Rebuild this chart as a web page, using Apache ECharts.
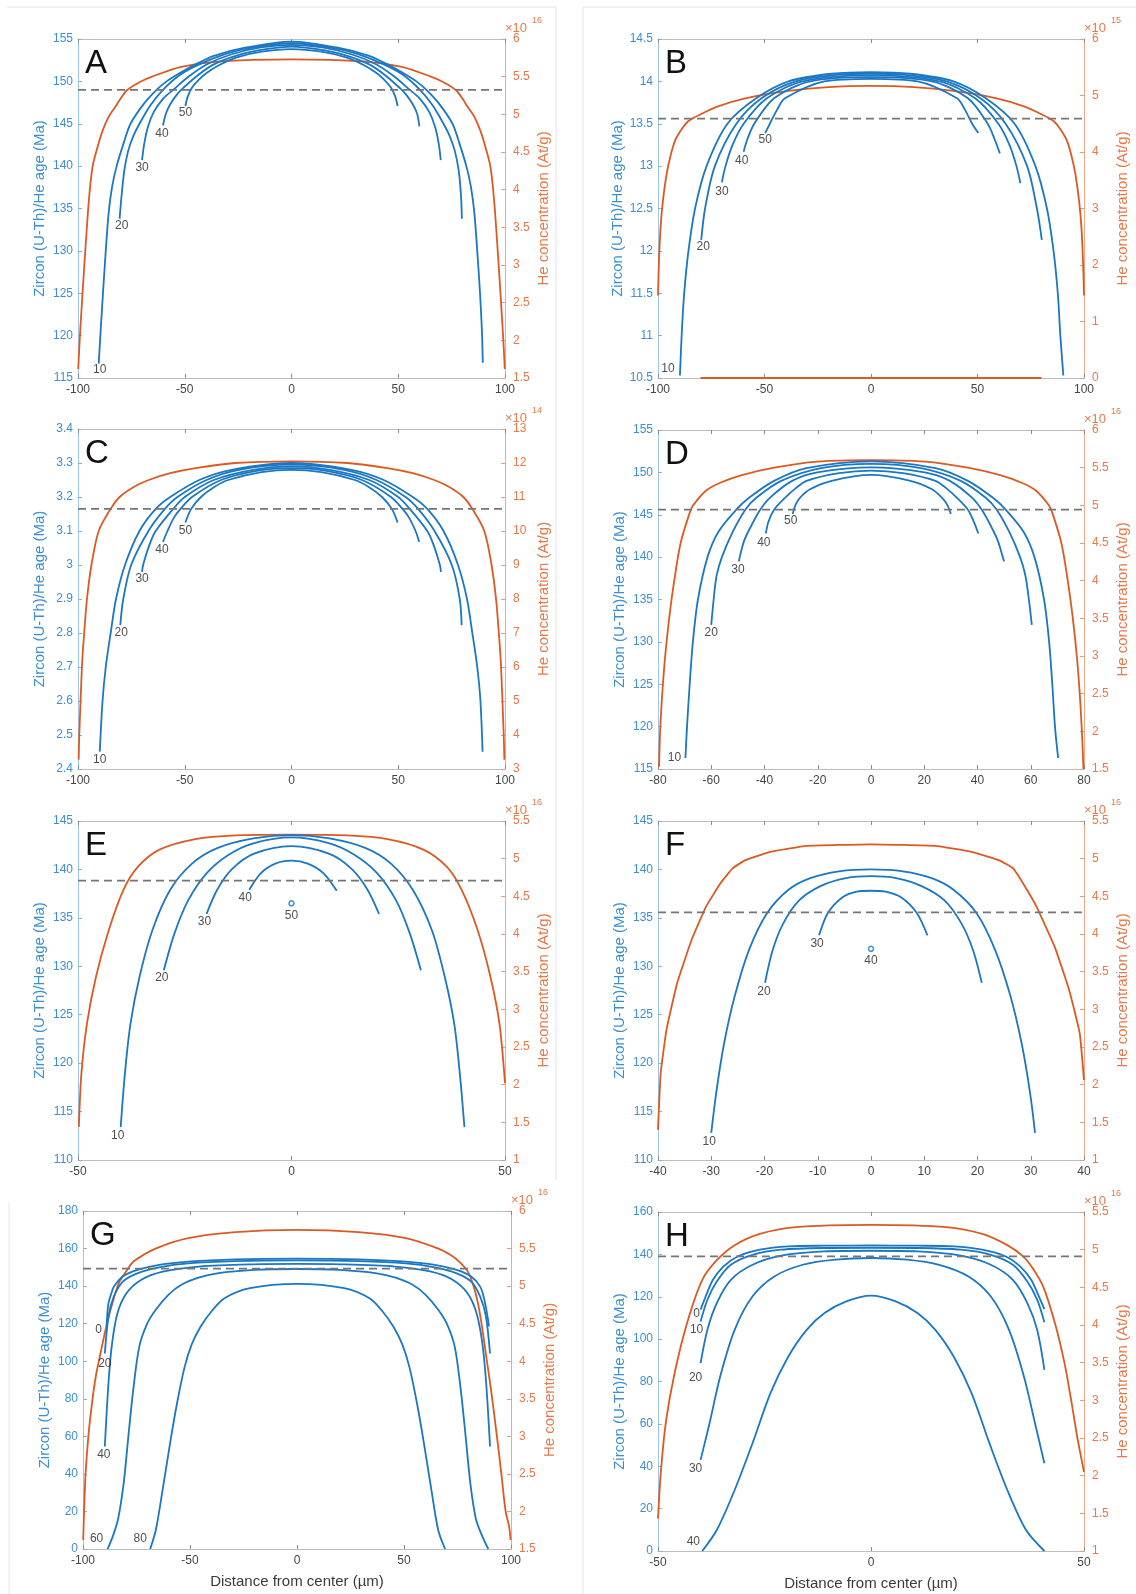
<!DOCTYPE html>
<html>
<head>
<meta charset="utf-8">
<title>Zircon (U-Th)/He age and He concentration profiles</title>
<script src="https://cdn.jsdelivr.net/npm/echarts@6/dist/echarts.min.js"></script>
<style>
  html, body { margin: 0; padding: 0; background: #fff; }
  #chart { width: 1136px; height: 1594px; }
</style>
</head>
<body>
<div id="chart"></div>
<script>
// ---------- axis ranges (panels A..H) ----------
const panelLetters = ['A', 'B', 'C', 'D', 'E', 'F', 'G', 'H'];
const xMin = [-100, -100, -100, -80, -50, -40, -100, -50];
const xMax = [100, 100, 100, 80, 50, 40, 100, 50];
const xStep = [50, 50, 50, 20, 50, 10, 50, 50];
const ageMin = [115, 10.5, 2.4, 115, 110, 110, 0, 0];
const ageMax = [155, 14.5, 3.4, 155, 145, 145, 180, 160];
const ageStep = [5, 0.5, 0.1, 5, 5, 5, 20, 20];
const heMin = [1.5, 0, 3, 1.5, 1, 1, 1.5, 1];
const heMax = [6, 6, 13, 6, 5.5, 5.5, 6, 5.5];
const heStep = [0.5, 1, 1, 0.5, 0.5, 0.5, 0.5, 0.5];
const heExponent = ['16', '15', '14', '16', '16', '16', '16', '16'];
const bulkAge = [149, 13.56, 3.165, 145.6, 138.84, 135.57, 149.3, 139.1];
const showDistanceTitle = [false, false, false, false, false, false, true, true];

// ---------- curve labels ----------
const namesA = ['10', '20', '30', '40', '50'];
const namesB = ['10', '20', '30', '40', '50'];
const namesC = ['10', '20', '30', '40', '50'];
const namesD = ['10', '20', '30', '40', '50'];
const namesE = ['10', '20', '30', '40'];
const namesF = ['10', '20', '30'];
const namesG = ['0', '20', '40', '60', '80'];
const namesH = ['0', '10', '20', '30', '40'];

// ---------- age profiles [distance (µm), age (Ma)] ----------
const ageA = [
  [[-90.3,116.7],[-89.4,120.5],[-88.3,125],[-87,130],[-85.6,134.6],[-84,137.6],[-81.9,140],[-78.5,142.8],[-75.4,145],[-69,147.4],[-63.2,149],[-58.5,150],[-51.5,151.1],[-44.9,152],[-36.4,153],[-21.2,154],[0,154.7],[21.2,154],[36.4,153],[44.9,152],[51.5,151.1],[58.5,150],[63.2,149],[69,147.4],[75.4,145],[78.5,142.8],[81.9,140],[84,137.6],[85.6,134.6],[87,130],[88.3,125],[89.2,120.5],[89.6,116.8]],
  [[-80.5,133.8],[-79.6,136.5],[-78.3,139.5],[-76.5,141.8],[-74,143.6],[-71.2,145],[-66,147.2],[-60.2,149],[-52,150.8],[-43.2,152],[-30,153.3],[-17.8,154],[0,154.5],[17.8,154],[30,153.3],[43.2,152],[52,150.8],[60.2,149],[66,147.2],[71.2,145],[74,143.6],[76.5,141.8],[78.3,139.5],[79.4,136.5],[79.8,133.8]],
  [[-70,140.7],[-69,142.6],[-67.3,144.6],[-64.5,146.4],[-60,148],[-55.4,149],[-48,150.6],[-39.8,152],[-28,153.2],[-14.4,154],[0,154.3],[14.4,154],[28,153.2],[39.8,152],[48,150.6],[55.4,149],[60,148],[64.5,146.4],[67.3,144.6],[69,142.6],[69.9,140.7]],
  [[-60.2,144.8],[-58.8,146.2],[-56.8,147.3],[-53.5,148.5],[-50.8,149.2],[-44,150.7],[-36.4,152],[-25,153.1],[-12,153.8],[0,154.1],[12,153.8],[25,153.1],[36.4,152],[44,150.7],[50.8,149.2],[53.5,148.5],[56.8,147.3],[58.8,146.2],[59.9,144.7]],
  [[-49.7,147.1],[-48.6,148.2],[-46.5,149.3],[-43,150.3],[-39.8,151],[-34,151.9],[-26,152.8],[-14,153.5],[0,153.8],[14,153.5],[26,152.8],[34,151.9],[39.8,151],[43,150.3],[46.5,149.3],[48.6,148.2],[49.7,147.1]]
];
const ageB = [
  [[-89.7,10.53],[-88.9,11],[-87.7,11.5],[-85.7,12],[-82.6,12.5],[-77.2,13],[-67.4,13.5],[-53.9,13.8],[-38.7,14],[-18.5,14.09],[0,14.11],[18.5,14.09],[38.7,14],[53.9,13.8],[67.4,13.5],[77.2,13],[82.6,12.5],[85.7,12],[87.7,11.5],[88.9,11],[90.3,10.53]],
  [[-79.7,12.13],[-77.9,12.5],[-73.3,13],[-63.2,13.5],[-51.4,13.8],[-35.4,14],[-15,14.08],[0,14.09],[15,14.08],[35.4,14],[51.4,13.8],[63.2,13.5],[73.3,13],[77.9,12.5],[80.2,12.13]],
  [[-70,12.81],[-68.3,13],[-65,13.25],[-59.8,13.5],[-48.9,13.8],[-32,14],[0,14.07],[32,14],[48.9,13.8],[59.8,13.5],[65,13.25],[68.3,13],[70.1,12.8]],
  [[-59.8,13.17],[-58,13.32],[-54.8,13.5],[-45.5,13.8],[-28.6,14],[0,14.05],[28.6,14],[45.5,13.8],[54.8,13.5],[58,13.32],[60.5,13.15]],
  [[-49.7,13.39],[-47.5,13.5],[-44,13.67],[-40.4,13.8],[-21.9,14],[0,14.03],[21.9,14],[40.4,13.8],[44,13.67],[47.5,13.5],[50.4,13.39]]
];
const ageC = [
  [[-89.8,2.451],[-88.5,2.6],[-87,2.7],[-84.7,2.8],[-82.2,2.9],[-78,3],[-71.2,3.1],[-63.6,3.165],[-56.8,3.2],[-43.2,3.25],[-28,3.28],[0,3.3],[28,3.28],[43.2,3.25],[56.8,3.2],[63.6,3.165],[71.2,3.1],[78,3],[82.2,2.9],[84.7,2.8],[87,2.7],[88.5,2.6],[89.5,2.451]],
  [[-80.2,2.823],[-78.8,2.9],[-75.1,3],[-67,3.1],[-59.3,3.165],[-53.4,3.2],[-39.8,3.25],[-24.6,3.28],[0,3.295],[24.6,3.28],[39.8,3.25],[53.4,3.2],[59.3,3.165],[67,3.1],[75.1,3],[78.8,2.9],[79.7,2.823]],
  [[-70,2.98],[-69.5,3],[-66.5,3.06],[-63.6,3.1],[-55.4,3.165],[-50,3.2],[-36.4,3.25],[-18,3.28],[0,3.29],[18,3.28],[36.4,3.25],[50,3.2],[55.4,3.165],[63.6,3.1],[66.5,3.06],[69.5,3],[70,2.98]],
  [[-60.2,3.068],[-58.1,3.1],[-55,3.14],[-52,3.165],[-46.6,3.2],[-33,3.25],[-15,3.278],[0,3.285],[15,3.278],[33,3.25],[46.6,3.2],[52,3.165],[55,3.14],[58.1,3.1],[59.8,3.068]],
  [[-49.7,3.125],[-47,3.165],[-42.4,3.2],[-36,3.23],[-29.7,3.25],[-14,3.273],[0,3.28],[14,3.273],[29.7,3.25],[36,3.23],[42.4,3.2],[47,3.165],[49.7,3.125]]
];
const ageD = [
  [[-69.7,116.3],[-69.1,120],[-68.1,125],[-66.9,130],[-65,135],[-61.4,140],[-57.3,143],[-50.6,145.6],[-45.8,147],[-36.4,149],[-24.2,150.5],[0,151.3],[24.2,150.5],[36.4,149],[45.8,147],[50.6,145.6],[57.3,143],[61.4,140],[65,135],[66.9,130],[68.1,125],[69.1,120],[70.3,116.3]],
  [[-60,132],[-59.1,135],[-58,137.8],[-56,140],[-51.9,143],[-47.2,145.6],[-43.1,147],[-33.7,149],[-18.8,150.5],[0,151],[18.8,150.5],[33.7,149],[43.1,147],[47.2,145.6],[51.9,143],[56,140],[58,137.8],[59.3,135],[60.4,132]],
  [[-49.6,139.5],[-49.3,140],[-47.8,141.8],[-45.8,143.2],[-41.8,145.5],[-38,147],[-29.6,149],[-20.2,150],[0,150.6],[20.2,150],[29.6,149],[38,147],[41.8,145.5],[45.8,143.2],[47.8,141.8],[49.5,140],[50,139.5]],
  [[-39.5,142.8],[-38.5,144.2],[-36.4,145.6],[-32.3,147],[-28,148.2],[-24.2,149],[-12,149.9],[0,150.2],[12,149.9],[24.2,149],[28,148.2],[32.3,147],[36.4,145.6],[38.6,144.2],[40.3,142.8]],
  [[-29.4,145.1],[-28.3,146.2],[-26.7,147],[-22.9,148],[-14.8,149],[0,149.7],[14.8,149],[22.9,148],[26.7,147],[28.6,146.2],[30,145.1]]
];
const ageE = [
  [[-40,113.4],[-39,119],[-37.7,124.1],[-35.6,128.9],[-32.6,133.7],[-28.4,137.9],[-23.3,140.6],[-17.4,142.2],[-8.9,143.2],[0,143.55],[8.9,143.2],[17.4,142.2],[23.3,140.6],[28.4,137.9],[32.9,133.7],[35.9,128.9],[38.1,124.1],[39.4,119],[40.5,113.4]],
  [[-29.9,129.6],[-27.4,133.4],[-24.2,136.8],[-19.9,139.6],[-14.8,141.5],[-8.9,142.7],[0,143.3],[8.9,142.7],[14.8,141.5],[20.1,139.6],[24.5,136.8],[27.7,133.4],[30.3,129.6]],
  [[-19.9,135.4],[-17.4,137.9],[-14,140],[-8.9,141.6],[0,142.4],[8.9,141.6],[14.2,140],[17.8,137.9],[20.5,135.4]],
  [[-9.9,137.9],[-7.2,139.6],[-3.8,140.6],[0,140.9],[3.8,140.6],[7.5,139.6],[10.6,137.8]]
];
const ageF = [
  [[-30,112.8],[-29,117.2],[-27.6,122],[-25.6,126.9],[-22.9,131.7],[-19.5,135.5],[-15.5,137.9],[-11.4,139.1],[-6,139.8],[0,140],[6,139.8],[11.4,139.1],[15.5,137.9],[19.8,135.5],[23.3,131.7],[26.2,126.9],[28.3,122],[29.8,117.2],[30.8,112.8]],
  [[-19.9,128.3],[-18.5,131.6],[-16.5,134.4],[-13.5,136.8],[-9.4,138.3],[-4.7,139.1],[0,139.3],[4.7,139.1],[9.4,138.3],[13.8,136.8],[17,134.4],[19.2,131.6],[20.8,128.3]],
  [[-9.75,133.2],[-8.1,135.5],[-5.4,137.1],[-2.7,137.7],[0,137.8],[2.7,137.7],[5.7,137.1],[8.6,135.5],[10.6,133.2]]
];
const ageG = [
  [[-89,118.5],[-88.1,130.9],[-86.5,137],[-85.6,139.7],[-81.4,145.1],[-74.6,148.6],[-64.4,151.3],[-50.8,153],[-28.8,154.2],[0,154.6],[28.8,154.2],[50.8,153],[64.4,151.3],[74.6,148.6],[81.4,145.1],[85.6,139.7],[87.5,133],[89,124],[89.7,118.5]],
  [[-89.8,104.1],[-88.1,123.8],[-85.6,134.4],[-81.4,142.4],[-74.6,146.8],[-64.4,150],[-50.8,152.1],[-28.8,153.3],[0,153.7],[28.8,153.3],[50.8,152.1],[64.4,150],[74.6,146.8],[81.4,142.4],[85.6,134.4],[88.3,123.8],[90.2,104.1]],
  [[-89.8,54.6],[-88.1,88.3],[-86.4,109.6],[-83.9,125.6],[-79.7,136.2],[-72.9,143.3],[-62.7,147.7],[-45.8,150.4],[-20.3,151.6],[0,151.8],[20.3,151.6],[45.8,150.4],[62.7,147.7],[72.9,143.3],[79.7,136.2],[83.9,125.6],[86.6,109.6],[88.4,88.3],[90.2,54.6]],
  [[-88.5,0],[-86,7],[-83.6,16],[-81,35],[-78.8,60],[-76.5,85],[-73.7,107.8],[-70,120],[-66.1,127.3],[-60,135.5],[-54.2,140.6],[-46,144.5],[-37.3,146.8],[-20,148.6],[0,149.1],[20,148.6],[37.3,146.8],[46,144.5],[54.2,140.6],[60,135.5],[66.1,127.3],[70,120],[73.7,107.8],[76.5,85],[78.8,60],[81,35],[83.6,16],[86.5,7],[89.4,0]],
  [[-68.6,0],[-66,10],[-63,30],[-59.3,56.4],[-56,78],[-52.5,97],[-49.2,109],[-45,118.5],[-40,126.5],[-33.9,133.5],[-22,138.9],[0,141.2],[22,138.9],[33.9,133.5],[40,126.5],[45,118.5],[49.2,109],[52.5,97],[56,78],[59.3,56.4],[63,30],[66,10],[69.2,0]]
];
const ageH = [
  [[-40,113.9],[-38.8,120.2],[-37.1,128],[-34.6,134.3],[-31.2,139.1],[-26.1,142.2],[-19.4,143.8],[-11,144.1],[0,144.2],[11,144.1],[19.4,143.8],[26.1,142.2],[31.5,139.1],[35,134.3],[37.6,128],[39.4,120.2],[40.7,114.2]],
  [[-40,108.3],[-38.4,118.6],[-36.2,127.2],[-32.9,135.1],[-27.8,139.8],[-21.1,142.2],[-11,143],[0,143.1],[11,143],[21.1,142.2],[28.1,139.8],[33.3,135.1],[36.7,127.2],[39,118.6],[40.7,108]],
  [[-40,88.7],[-38.4,104.4],[-36.2,117],[-32.9,128],[-27.8,135.1],[-21.1,139.4],[-11,141.4],[0,141.7],[11,141.4],[21.1,139.4],[28.1,135.1],[33.3,128],[36.7,117],[39,104.4],[40.7,85.5]],
  [[-40,43],[-37.9,60.3],[-35.4,82.4],[-32,104.4],[-27.8,120.2],[-22.7,129.6],[-16,135.1],[-8.4,137.5],[0,138.3],[8.4,137.5],[16,135.1],[22.9,129.6],[28.1,120.2],[32.4,104.4],[35.9,82.4],[38.5,60.3],[40.7,41.4]],
  [[-39.6,0],[-36.2,9.9],[-32,28.8],[-27.8,50.9],[-23.6,74.5],[-19.4,91.8],[-15.1,104.4],[-10.9,112.3],[-5.8,117.8],[0,120.5],[5.8,117.8],[10.9,112.3],[15.1,104.4],[19.4,91.8],[23.6,74.5],[27.8,50.9],[32,28.8],[36.4,9.9],[40.7,0]]
];

// single-point ages (no profile left for that zoning width)
const spotE = [[0, 136.5]];
const spotNameE = '50';
const spotF = [[0, 131.8]];
const spotNameF = '40';

// ---------- He concentration profiles [distance (µm), He (×10^n At/g)] ----------
const heA = [[-99.9,1.62],[-99.4,1.9],[-98.8,2.2],[-97.1,2.97],[-94.9,3.86],[-93.2,4.3],[-91,4.55],[-88.5,4.78],[-85.6,4.97],[-82.5,5.1],[-80.5,5.19],[-77.1,5.32],[-71,5.43],[-65.3,5.5],[-51.7,5.63],[-34.7,5.7],[0,5.73],[34.7,5.7],[51.7,5.63],[65.3,5.5],[71,5.43],[77.1,5.32],[80.5,5.19],[82.5,5.1],[85.6,4.97],[88.5,4.78],[91,4.55],[93.2,4.3],[94.9,3.86],[97.1,2.97],[98.8,2.2],[99.4,1.9],[99.9,1.62]];
const heB = [[-100,1.46],[-99.6,2],[-98.9,2.6],[-97.8,3.1],[-96,3.6],[-94,3.95],[-91.9,4.21],[-89,4.4],[-86,4.54],[-83.5,4.6],[-80.9,4.65],[-72.5,4.8],[-59,4.95],[-38.7,5.08],[-20,5.15],[0,5.17],[20,5.15],[38.7,5.08],[59,4.95],[72.5,4.8],[80.9,4.65],[83.5,4.6],[86,4.54],[89,4.4],[91.9,4.21],[94,3.95],[96,3.6],[97.8,3.1],[98.9,2.6],[99.6,2],[100,1.46]];
const heBFloor = [[-80,0],[80,0]];
const heC = [[-99.7,3.27],[-99.4,4],[-98.8,5],[-98,6.2],[-97.1,7],[-95.8,8],[-93.7,9],[-90.3,10],[-84.7,10.65],[-80.5,11],[-73.7,11.3],[-66.9,11.5],[-56.8,11.7],[-44.9,11.85],[-26.3,12],[0,12.05],[26.3,12],[44.9,11.85],[56.8,11.7],[66.9,11.5],[73.7,11.3],[80.5,11],[84.7,10.65],[90.3,10],[93.7,9],[95.8,8],[97.1,7],[98,6.2],[98.8,5],[99.4,4],[99.7,3.27]];
const heD = [[-79.6,1.53],[-79.2,2],[-78.4,2.5],[-77.3,3],[-75.8,3.5],[-73.9,4],[-71.5,4.5],[-68.1,4.9],[-66.8,5],[-61.8,5.2],[-56.6,5.3],[-48.5,5.4],[-36.4,5.5],[-20.2,5.58],[0,5.6],[20.2,5.58],[36.4,5.5],[48.5,5.4],[56.6,5.3],[61.8,5.2],[66.8,5],[68.1,4.9],[71.5,4.5],[73.9,4],[75.8,3.5],[77.3,3],[78.4,2.5],[79.2,2],[79.8,1.5]];
const heE = [[-49.8,1.44],[-49.2,2.15],[-47.9,2.81],[-45.8,3.43],[-42.8,4.05],[-39.4,4.58],[-36,4.89],[-30.9,5.12],[-22.5,5.26],[-13.1,5.31],[0,5.32],[13.1,5.31],[22.5,5.26],[30.9,5.12],[36.4,4.89],[39.9,4.58],[43.6,4.05],[46.6,3.43],[48.7,2.81],[50,2.02]];
const heF = [[-40,1.4],[-39.5,2.15],[-38.4,2.73],[-36.4,3.35],[-33.7,3.92],[-31,4.36],[-28.3,4.67],[-26,4.87],[-23.6,4.98],[-18.9,5.09],[-12.1,5.17],[0,5.19],[12.1,5.17],[18.9,5.09],[24,4.98],[26.7,4.87],[29,4.62],[31.1,4.36],[34.5,3.83],[37.2,3.26],[39.2,2.68],[40,2.06]];
const heG = [[-99.9,1.62],[-99.5,2],[-98.8,2.5],[-97.5,3],[-95.8,3.44],[-94,3.8],[-91.5,4.15],[-88.8,4.5],[-85.5,4.85],[-83.1,5.05],[-79,5.23],[-76.3,5.33],[-66.1,5.5],[-50.8,5.64],[-28.8,5.72],[0,5.75],[28.8,5.72],[50.8,5.64],[66.1,5.5],[72,5.41],[76,5.32],[79.7,5.2],[82.3,5.02],[84.5,4.78],[86.5,4.45],[88.5,4.05],[91,3.55],[93.2,3.05],[95.5,2.5],[97.5,2],[99.1,1.8],[99.8,1.62]];
const heH = [[-50,1.43],[-49.3,2.07],[-48.1,2.73],[-46,3.39],[-43,4.06],[-39.6,4.6],[-36.2,4.86],[-32,5.06],[-26.1,5.21],[-17.7,5.3],[0,5.33],[17.7,5.3],[26.1,5.21],[32,5.06],[35.7,4.91],[38,4.75],[40.5,4.5],[43.3,4],[45.4,3.5],[47,3],[48.3,2.55],[49.3,2.25],[50,2.05]];

// ---------- layout & style ----------
const gridBoxes = [[78,39,427,339],[658,39,426,339],[78,429,427,340],[658,430,426,339],[78,821,427,339],[658,821,426,339],[83,1211,428,338],[658,1212,426,339]];
// pixel offset of each curve label from the curve's first point
const offA = [[1,6],[2,7],[0,7],[-1,8],[0,7]];
const offB = [[-12,-7],[2,7],[0,9],[-2,9],[0,7]];
const offC = [[0,8],[1,8],[0,7],[-1,8],[0,8]];
const offD = [[-11,0],[0,8],[-1,8],[-2,9],[-2,7]];
const offE = [[-3,9],[-2,8],[-2,8],[-4,8]];
const offF = [[-2,9],[-1,9],[-2,8]];
const offG = [[-8,3],[0,10],[-1,8],[-11,-10],[-10,-10]];
const offH = [[-4,4],[-4,8],[-5,15],[-5,9],[-9,-9]];
// smoothing of the He curve per panel (F keeps its shoulder)
const heSmooth = [0.3, 0.3, 0.3, 0.3, 0.3, 0.12, 0.3, 0.3];

const FONT = 'Liberation Sans, Arial, Helvetica, sans-serif';
const BLUE = '#1a77c4';
const BLUE_TXT = '#3d8fd1';
const BLUE_AXIS = '#9cc5e8';
const ORANGE = '#dc5a22';
const ORANGE_TXT = '#e8784a';
const ORANGE_AXIS = '#f0a887';
const GREY_AXIS = '#bdbdbd';
const GREY_TXT = '#454545';
const TICK_FONT = 12;
const TITLE_FONT = 15;

const panels = [
  { age: ageA, he: heA, names: namesA, off: offA },
  { age: ageB, he: heB, names: namesB, off: offB, floor: heBFloor },
  { age: ageC, he: heC, names: namesC, off: offC },
  { age: ageD, he: heD, names: namesD, off: offD },
  { age: ageE, he: heE, names: namesE, off: offE, spot: spotE, spotName: spotNameE },
  { age: ageF, he: heF, names: namesF, off: offF, spot: spotF, spotName: spotNameF },
  { age: ageG, he: heG, names: namesG, off: offG },
  { age: ageH, he: heH, names: namesH, off: offH }
];

const fmt = v => String(parseFloat(Number(v).toFixed(3)));

const grids = [], xAxes = [], yAxes = [], series = [], graphics = [];

panels.forEach((p, i) => {
  const [gl, gt, gw, gh] = gridBoxes[i];
  grids.push({ left: gl, top: gt, width: gw, height: gh, containLabel: false });

  // bottom distance axis
  xAxes.push({
    type: 'value', gridIndex: i, position: 'bottom',
    min: xMin[i], max: xMax[i], interval: xStep[i],
    axisLine: { show: true, onZero: false, lineStyle: { color: GREY_AXIS, width: 1 } },
    axisTick: { show: true, inside: true, length: 4, lineStyle: { color: '#8a8a8a' } },
    axisLabel: { color: GREY_TXT, fontSize: TICK_FONT, margin: 6, fontFamily: FONT, formatter: fmt },
    splitLine: { show: false },
    name: showDistanceTitle[i] ? 'Distance from center (\u00b5m)' : '',
    nameLocation: 'middle', nameGap: 25,
    nameTextStyle: { color: '#3a3a3a', fontSize: TITLE_FONT, fontFamily: FONT }
  });
  // top box edge with ticks
  xAxes.push({
    type: 'value', gridIndex: i, position: 'top',
    min: xMin[i], max: xMax[i], interval: xStep[i],
    axisLine: { show: true, onZero: false, lineStyle: { color: GREY_AXIS, width: 1 } },
    axisTick: { show: true, inside: true, length: 4, lineStyle: { color: '#8a8a8a' } },
    axisLabel: { show: false }, splitLine: { show: false }
  });
  // left age axis
  yAxes.push({
    type: 'value', gridIndex: i, position: 'left',
    min: ageMin[i], max: ageMax[i], interval: ageStep[i],
    axisLine: { show: true, onZero: false, lineStyle: { color: BLUE_AXIS, width: 1 } },
    axisTick: { show: true, inside: true, length: 4, lineStyle: { color: '#7fb3e0' } },
    axisLabel: { color: BLUE_TXT, fontSize: TICK_FONT, margin: 5, fontFamily: FONT, formatter: fmt },
    splitLine: { show: false },
    name: 'Zircon (U-Th)/He age (Ma)', nameLocation: 'middle', nameGap: 31, nameRotate: 90,
    nameTextStyle: { color: BLUE_TXT, fontSize: TITLE_FONT, fontFamily: FONT }
  });
  // right He concentration axis
  yAxes.push({
    type: 'value', gridIndex: i, position: 'right',
    min: heMin[i], max: heMax[i], interval: heStep[i],
    axisLine: { show: true, onZero: false, lineStyle: { color: ORANGE_AXIS, width: 1 } },
    axisTick: { show: true, inside: true, length: 4, lineStyle: { color: '#eb9a78' } },
    axisLabel: { color: ORANGE_TXT, fontSize: TICK_FONT, margin: 8, fontFamily: FONT, formatter: fmt },
    splitLine: { show: false },
    name: 'He concentration (At/g)', nameLocation: 'middle', nameGap: 31, nameRotate: 90,
    nameTextStyle: { color: ORANGE_TXT, fontSize: TITLE_FONT, fontFamily: FONT }
  });

  const xb = 2 * i, yl = 2 * i, yr = 2 * i + 1;

  // He concentration
  series.push({
    type: 'line', xAxisIndex: xb, yAxisIndex: yr, data: p.he,
    showSymbol: false, symbol: 'none', smooth: heSmooth[i], silent: true, z: 2,
    lineStyle: { color: ORANGE, width: 1.8 }
  });
  if (p.floor) {
    series.push({
      type: 'line', xAxisIndex: xb, yAxisIndex: yr, data: p.floor,
      showSymbol: false, symbol: 'none', silent: true, z: 2,
      lineStyle: { color: ORANGE, width: 2 }
    });
  }
  // age profiles
  p.age.forEach(curve => {
    series.push({
      type: 'line', xAxisIndex: xb, yAxisIndex: yl, data: curve,
      showSymbol: false, symbol: 'none', smooth: 0.3, silent: true, z: 3,
      lineStyle: { color: BLUE, width: 1.8 }
    });
  });
  // curve labels at each profile's first point
  series.push({
    type: 'scatter', xAxisIndex: xb, yAxisIndex: yl, silent: true, z: 6,
    symbolSize: 1, itemStyle: { color: 'rgba(0,0,0,0)' },
    data: p.age.map((c, k) => ({ value: c[0], name: p.names[k], label: { offset: p.off[k] } })),
    label: { show: true, position: 'inside', formatter: '{b}', color: '#222', fontSize: 12, fontFamily: FONT }
  });
  // single-point age
  if (p.spot) {
    series.push({
      type: 'scatter', xAxisIndex: xb, yAxisIndex: yl, silent: true, z: 6,
      symbol: 'circle', symbolSize: 5,
      itemStyle: { color: '#fff', borderColor: BLUE, borderWidth: 1.5 },
      data: p.spot.map(s => ({ value: s, name: p.spotName })),
      label: { show: true, position: 'inside', offset: [0, 12], formatter: '{b}', color: '#222', fontSize: 12, fontFamily: FONT }
    });
  }
  // bulk age (dashed)
  series.push({
    type: 'line', xAxisIndex: xb, yAxisIndex: yl,
    data: [[xMin[i], bulkAge[i]], [xMax[i], bulkAge[i]]],
    showSymbol: false, symbol: 'none', silent: true, z: 4,
    lineStyle: { color: '#757575', width: 1.8, type: [8, 5] }
  });

  // panel letter
  graphics.push({
    type: 'text', left: gl + 7, top: gt + 8, z: 10,
    style: { text: panelLetters[i], fontSize: 33, fontFamily: FONT, fill: '#111' }
  });
  // right-axis multiplier
  graphics.push({
    type: 'text', x: gl + gw, y: gt - 11, z: 10,
    style: { text: '\u00d710', fontSize: 13, fontFamily: FONT, fill: ORANGE_TXT, textVerticalAlign: 'middle', textAlign: 'left' }
  });
  graphics.push({
    type: 'text', x: gl + gw + 27, y: gt - 18, z: 10,
    style: { text: heExponent[i], fontSize: 9, fontFamily: FONT, fill: ORANGE_TXT, textVerticalAlign: 'middle', textAlign: 'left' }
  });
});

// faint frames of the figure tiles
const frameLines = [
  [7, 7, 556, 7], [556, 7, 556, 1180],
  [583, 7, 1136, 7], [583, 7, 583, 1594],
  [9, 1203, 9, 1594]
];
frameLines.forEach(([x1, y1, x2, y2]) => {
  graphics.push({
    type: 'line', z: 0, silent: true,
    shape: { x1, y1, x2, y2 },
    style: { stroke: '#e4e4e4', lineWidth: 1 }
  });
});

const chart = echarts.init(document.getElementById('chart'), null, { renderer: 'canvas' });
chart.setOption({
  animation: false,
  backgroundColor: '#ffffff',
  textStyle: { fontFamily: FONT },
  grid: grids,
  xAxis: xAxes,
  yAxis: yAxes,
  series: series,
  graphic: graphics
});
</script>
</body>
</html>
